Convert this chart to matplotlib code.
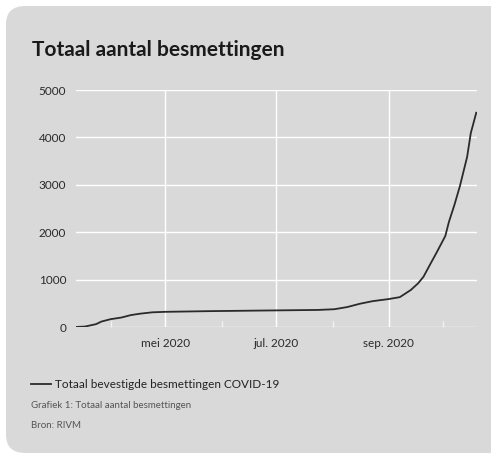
import pandas as pd
import numpy as np
import matplotlib
matplotlib.use('Agg')
import matplotlib.pyplot as plt
import matplotlib.dates as mdates
from matplotlib.patches import FancyBboxPatch

plt.rcParams['font.family'] = ['Lato', 'DejaVu Sans']

# data
datums = ['2020-03-13', '2020-03-18', '2020-03-24', '2020-03-27', '2020-04-01',
          '2020-04-07', '2020-04-12', '2020-04-17', '2020-04-24', '2020-05-01',
          '2020-05-26', '2020-06-30', '2020-07-24', '2020-08-02', '2020-08-09',
          '2020-08-16', '2020-08-23', '2020-09-01', '2020-09-07', '2020-09-13',
          '2020-09-17', '2020-09-20', '2020-09-24', '2020-09-27', '2020-10-02',
          '2020-10-04', '2020-10-07', '2020-10-10', '2020-10-14', '2020-10-16',
          '2020-10-19']
besmettingen = [0, 10, 60, 115, 165, 200, 250, 280, 310, 320,
                335, 350, 360, 375, 420, 490, 545, 590, 630, 780,
                920, 1060, 1345, 1555, 1920, 2220, 2575, 2970, 3590, 4090,
                4520]
y_ticks = [0, 1000, 2000, 3000, 4000, 5000]

bg = '#d9d9d9'
datums = pd.to_datetime(datums)

fig = plt.figure(figsize=(4.91, 4.54), dpi=100)
fig.patch.set_facecolor('white')

# grijze kaart met ronde hoeken (loopt rechts buiten beeld)
kaart = FancyBboxPatch((6 / 491, 1 / 454), 510 / 491, 447 / 454,
                       boxstyle='round,pad=0,rounding_size=0.04',
                       transform=fig.transFigure, facecolor=bg,
                       edgecolor='none', zorder=-5)
fig.patches.append(kaart)

ax = fig.add_axes([76 / 491, 1 - 327 / 454, 401 / 491, 237 / 454])
ax.set_zorder(2)
ax.patch.set_alpha(0)

ax.plot(datums, besmettingen, color='#2a2a2a', linewidth=1.3, zorder=3)

ax.set_ylim(0, 5000)
ax.set_yticks(y_ticks)
ax.set_xlim(pd.Timestamp('2020-03-13'), pd.Timestamp('2020-10-19 10:00'))
ax.xaxis.set_major_locator(mdates.MonthLocator(bymonth=[5, 7, 9]))
ax.xaxis.set_minor_locator(mdates.MonthLocator(bymonth=[4, 6, 8, 10]))
maanden = {5: 'mei', 7: 'jul.', 9: 'sep.'}
ax.xaxis.set_major_formatter(plt.FuncFormatter(
    lambda v, p: maanden[mdates.num2date(v).month] + ' ' + str(mdates.num2date(v).year)))

ax.grid(True, which='major', color='white', linewidth=1)
ax.set_axisbelow(True)
for s in ax.spines.values():
    s.set_visible(False)
ax.tick_params(axis='both', which='major', length=0, labelsize=8.5, colors='#2a2a2a', pad=7)
ax.tick_params(axis='x', which='major', pad=8)
ax.tick_params(axis='x', which='minor', direction='in', length=4, color='#f2f2f2', width=1)

fig.text(32 / 491, 1 - 50 / 454, 'Totaal aantal besmettingen', fontsize=15,
         fontweight='bold', color='#1a1a1a', va='center')

fig.lines.append(plt.Line2D([31 / 491, 51 / 491], [1 - 384 / 454] * 2,
                            transform=fig.transFigure, color='#2a2a2a', linewidth=1.3))
fig.text(55 / 491, 1 - 384 / 454, 'Totaal bevestigde besmettingen COVID-19',
         fontsize=8.5, color='#222222', va='center')
fig.text(31 / 491, 1 - 406 / 454, 'Grafiek 1: Totaal aantal besmettingen',
         fontsize=7, color='#555555', va='center')
fig.text(31 / 491, 1 - 425 / 454, 'Bron: RIVM', fontsize=7, color='#555555', va='center')

plt.savefig('out.png', dpi=100, facecolor='white')
